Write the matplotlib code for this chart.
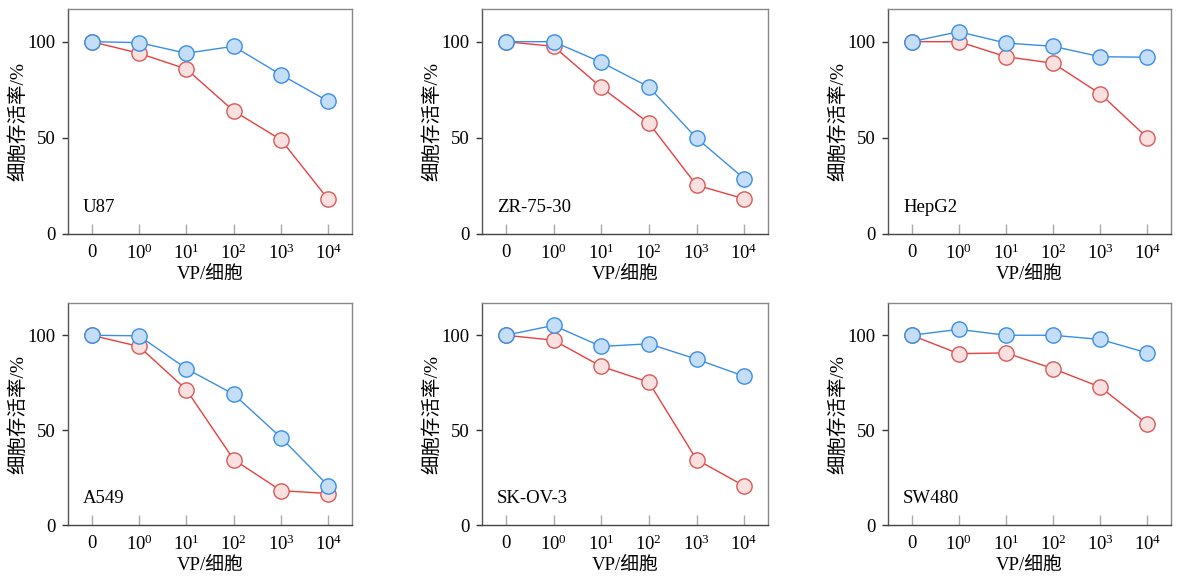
import matplotlib
matplotlib.use("Agg")
import matplotlib.pyplot as plt
import numpy as np

plt.rcParams['font.family'] = ['Liberation Serif', 'Noto Sans CJK SC']
plt.rcParams['mathtext.fontset'] = 'stix'

x_labels = ['0', r'$\mathregular{10^{0}}$', r'$\mathregular{10^{1}}$', r'$\mathregular{10^{2}}$',
            r'$\mathregular{10^{3}}$', r'$\mathregular{10^{4}}$']
cell_lines = ['U87', 'ZR-75-30', 'HepG2', 'A549', 'SK-OV-3', 'SW480']

blue_u87 = [100, 99.5, 94, 97.6, 82.8, 69]
red_u87 = [100, 94, 85.8, 64, 49, 18]
blue_zr = [100, 100, 89.3, 76.5, 49.9, 28.8]
red_zr = [100, 97.6, 76.3, 57.7, 25.4, 18.3]
blue_hep = [100, 105.2, 99.3, 97.6, 92.2, 91.9]
red_hep = [100, 100, 92.2, 88.8, 72.9, 50]
blue_a549 = [100, 99.7, 82.4, 68.9, 46.1, 20.6]
red_a549 = [100, 94.1, 71.3, 34.5, 18.1, 16.6]
blue_sk = [100, 105.2, 94.1, 95.5, 87.4, 78.4]
red_sk = [100, 97.4, 83.6, 75.3, 34.5, 20.6]
blue_sw = [100, 103.1, 100, 100, 97.8, 90.7]
red_sw = [100, 90.3, 90.7, 82.4, 72.7, 53.2]

blue_series = [blue_u87, blue_zr, blue_hep, blue_a549, blue_sk, blue_sw]
red_series = [red_u87, red_zr, red_hep, red_a549, red_sk, red_sw]

y_ticks = [0, 50, 100]
ylabel = '细胞存活率/%'
xlabel = 'VP/细胞'

fig = plt.figure(figsize=(11.79, 5.77), dpi=100)

lefts = [68 / 1179, 482 / 1179, 888 / 1179]
widths = [284 / 1179, 286 / 1179, 283 / 1179]
row_bottoms = [343 / 577, 52 / 577]
row_heights = [225 / 577, 222 / 577]

blue_line = '#3a8ee6'
blue_face = '#c5def7'
red_line = '#e8403f'
red_face = '#fbe0e0'
red_edge = '#d85a5a'

xs = np.arange(len(x_labels))
for i, name in enumerate(cell_lines):
    r, c = divmod(i, 3)
    ax = fig.add_axes([lefts[c], row_bottoms[r], widths[c], row_heights[r]])
    ax.plot(xs, red_series[i], color=red_line, lw=1.0, marker='o', ms=11,
            mfc=red_face, mec=red_edge, mew=1.0, zorder=2)
    ax.plot(xs, blue_series[i], color=blue_line, lw=1.0, marker='o', ms=11,
            mfc=blue_face, mec=blue_line, mew=1.0, zorder=3)
    ax.set_xlim(-0.5, 5.5)
    ax.set_ylim(0, 117)
    ax.set_xticks(xs)
    ax.set_xticklabels(x_labels, fontsize=13.5)
    ax.set_yticks(y_ticks)
    ax.set_yticklabels([str(v) for v in y_ticks], fontsize=13.5)
    ax.tick_params(axis='x', direction='in', length=7, width=1, color='#aaaaaa', pad=7)
    ax.tick_params(axis='y', direction='out', length=4, width=1, color='#333333', pad=5)
    for s in ['top', 'right']:
        ax.spines[s].set_color('#888888')
    ax.spines['left'].set_color('#555555')
    ax.spines['bottom'].set_color('#444444')
    for s in ax.spines.values():
        s.set_linewidth(1.0)
    ax.set_xlabel(xlabel, fontsize=13.5, labelpad=2)
    ax.set_ylabel(ylabel, fontsize=14, labelpad=0)
    ax.text(0.053, 0.12, name, transform=ax.transAxes, fontsize=13.5,
            ha='left', va='center')

fig.savefig('out.png', dpi=100)
